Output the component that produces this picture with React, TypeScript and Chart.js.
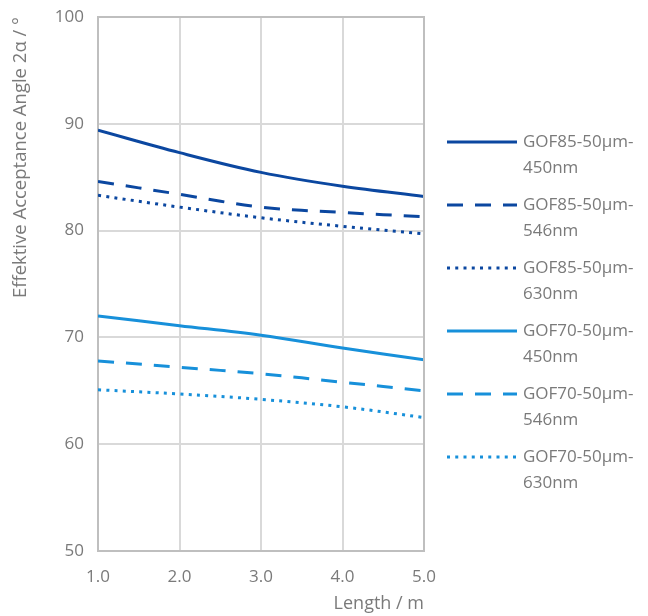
import React, { useEffect, useRef } from 'react';
import { Chart, registerables } from 'chart.js';

Chart.register(...registerables);

const lengths = [1, 2, 3, 4, 5];
const xTickLabels = ['1.0', '2.0', '3.0', '4.0', '5.0'];

const gof85_450 = [89.4, 87.3, 85.45, 84.15, 83.2];
const gof85_546 = [84.6, 83.4, 82.2, 81.7, 81.3];
const gof85_630 = [83.3, 82.2, 81.2, 80.4, 79.7];
const gof70_450 = [72.0, 71.1, 70.2, 69.0, 67.9];
const gof70_546 = [67.8, 67.2, 66.6, 65.8, 65.0];
const gof70_630 = [65.1, 64.7, 64.2, 63.5, 62.5];

const seriesNames = [
  ['GOF85-50µm-', '450nm'],
  ['GOF85-50µm-', '546nm'],
  ['GOF85-50µm-', '630nm'],
  ['GOF70-50µm-', '450nm'],
  ['GOF70-50µm-', '546nm'],
  ['GOF70-50µm-', '630nm'],
];

const DARK = '#0b47a0';
const LIGHT = '#1790da';
const TEXT = '#7a7a7a';
const FONT = '"Open Sans", sans-serif';

const DASHED = [16, 12];
const DOTTED = [3, 5.25];

const seriesValues = [gof85_450, gof85_546, gof85_630, gof70_450, gof70_546, gof70_630];
const seriesColors = [DARK, DARK, DARK, LIGHT, LIGHT, LIGHT];
const seriesDash = [[], DASHED, DOTTED, [], DASHED, DOTTED];

const frameAndLegend = {
  id: 'frameAndLegend',
  afterDatasetsDraw(chart: any) {
    const { ctx, chartArea } = chart;
    ctx.save();
    ctx.strokeStyle = '#bfbfbf';
    ctx.lineWidth = 2;
    ctx.setLineDash([]);
    ctx.beginPath();
    ctx.moveTo(chartArea.left, chartArea.top);
    ctx.lineTo(chartArea.right, chartArea.top);
    ctx.lineTo(chartArea.right, chartArea.bottom);
    ctx.stroke();
    ctx.restore();
  },
  afterDraw(chart: any) {
    const { ctx, chartArea } = chart;
    ctx.save();
    const x0 = chartArea.right + 23;
    const x1 = x0 + 70;
    const tx = x1 + 6;
    const startY = chartArea.top + 125;
    const step = 63;
    chart.data.datasets.forEach((ds: any, i: number) => {
      const y = startY + i * step;
      ctx.strokeStyle = ds.borderColor;
      ctx.lineWidth = ds.borderWidth;
      ctx.setLineDash(ds.borderDash || []);
      ctx.lineCap = 'butt';
      ctx.beginPath();
      ctx.moveTo(x0, y);
      ctx.lineTo(x1, y);
      ctx.stroke();
      ctx.setLineDash([]);
      ctx.fillStyle = TEXT;
      ctx.font = `17px ${FONT}`;
      ctx.textBaseline = 'middle';
      ctx.textAlign = 'left';
      const lines = seriesNames[i];
      lines.forEach((ln, j) => {
        ctx.fillText(ln, tx, y + j * 26);
      });
    });
    ctx.restore();
  },
};

export default function App() {
  const ref = useRef<HTMLCanvasElement | null>(null);
  useEffect(() => {
    if (!ref.current) return;
    const chart = new Chart(ref.current, {
      type: 'line',
      data: {
        datasets: seriesValues.map((vals, i) => ({
          label: seriesNames[i].join(''),
          data: vals.map((v, k) => ({ x: lengths[k], y: v })),
          borderColor: seriesColors[i],
          backgroundColor: seriesColors[i],
          borderWidth: 3,
          borderDash: seriesDash[i],
          pointRadius: 0,
          tension: 0.35,
          fill: false,
        })),
      },
      options: {
        animation: false,
        responsive: false,
        maintainAspectRatio: false,
        layout: { padding: { left: 0, right: 224, top: 17, bottom: 0 } },
        plugins: {
          legend: { display: false },
          tooltip: { enabled: false },
        },
        scales: {
          x: {
            type: 'linear',
            min: 1,
            max: 5,
            afterFit: (s: any) => { s.height = 65; s.paddingLeft = 0; s.paddingRight = 0; },
            afterBuildTicks: (s: any) => { s.ticks = lengths.map((v) => ({ value: v })); },
            ticks: {
              callback: (v: any) => xTickLabels[lengths.indexOf(Number(v))] ?? '',
              color: TEXT,
              font: { family: FONT, size: 17 },
              padding: 16,
              maxRotation: 0,
            },
            grid: { color: '#d9d9d9', lineWidth: 2, drawTicks: false },
            border: { color: '#bfbfbf', width: 2 },
            title: {
              display: true,
              text: 'Length / m',
              align: 'end',
              color: TEXT,
              font: { family: FONT, size: 18 },
              padding: { top: 0, bottom: 1 },
            },
          },
          y: {
            min: 50,
            max: 100,
            afterFit: (s: any) => { s.width = 98; s.paddingTop = 0; s.paddingBottom = 0; },
            ticks: {
              stepSize: 10,
              color: TEXT,
              font: { family: FONT, size: 17 },
              padding: 14,
            },
            grid: { color: '#d9d9d9', lineWidth: 2, drawTicks: false },
            border: { color: '#bfbfbf', width: 2 },
            title: {
              display: true,
              text: 'Effektive Acceptance Angle 2α / °',
              align: 'end',
              color: TEXT,
              font: { family: FONT, size: 18.5 },
              padding: { top: 10, bottom: 0 },
            },
          },
        },
      },
      plugins: [frameAndLegend],
    } as any);
    return () => chart.destroy();
  }, []);
  return (
    <div style={{ position: 'fixed', left: 0, top: 0, width: 648, height: 616, background: '#fff' }}>
      <canvas ref={ref} width={648} height={616} style={{ width: 648, height: 616 }} />
    </div>
  );
}
